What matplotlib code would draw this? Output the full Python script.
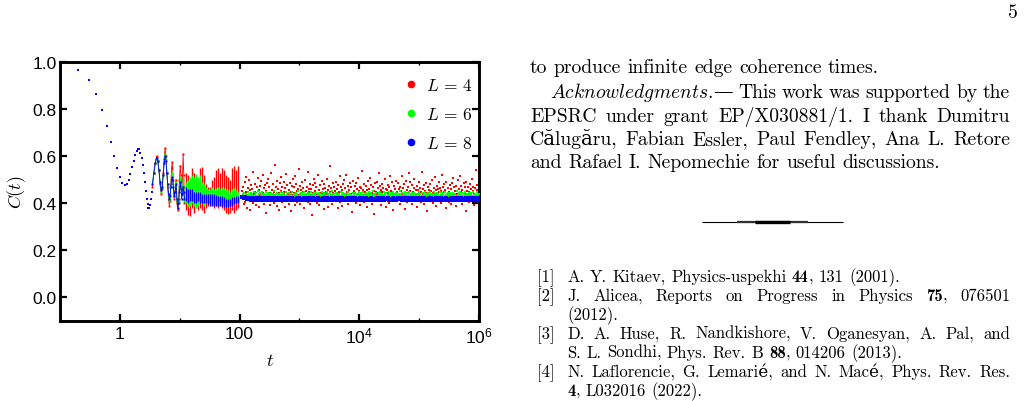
import numpy as np
import matplotlib
matplotlib.use("Agg")
import matplotlib.pyplot as plt
from matplotlib.lines import Line2D
from matplotlib.ticker import FixedLocator, NullFormatter

W, H = 1028, 402

# ---------------- data ----------------
series_labels = [r"$L\,=\,4$", r"$L\,=\,6$", r"$L\,=\,8$"]
series_colors = ["#ff0000", "#00ff00", "#0000ff"]

# early times: all system sizes coincide
t_early = [0.2, 0.3, 0.4, 0.5, 0.6, 0.7, 0.8, 0.9, 1.0, 1.1, 1.2, 1.3, 1.4, 1.5,
           1.6, 1.7, 1.8, 1.9, 2.0, 2.1, 2.2, 2.3, 2.4, 2.5, 2.6, 2.7, 2.8, 2.9,
           3.0, 3.1, 3.2, 3.3, 3.4]
c_early = [0.966, 0.922, 0.865, 0.798, 0.728, 0.659, 0.600, 0.548, 0.510, 0.487,
           0.479, 0.483, 0.500, 0.523, 0.553, 0.581, 0.604, 0.624, 0.631, 0.630,
           0.615, 0.594, 0.564, 0.527, 0.490, 0.454, 0.419, 0.396, 0.379, 0.380,
           0.394, 0.417, 0.449]

# oscillating stretch where the sizes start to separate
t_osc = [3.5, 3.7, 3.9, 4.1, 4.3, 4.5, 4.7, 4.9, 5.1, 5.3, 5.5, 5.7, 5.9, 6.1, 6.3, 6.5,
         6.7, 6.9, 7.1, 7.3, 7.5, 7.8, 8.1, 8.4, 8.7, 9.0, 9.3, 9.6, 9.9, 10.2, 10.5,
         10.8, 11.1, 11.4, 11.7, 12.0]
red_osc = [0.47, 0.53, 0.57, 0.60, 0.58, 0.54, 0.48, 0.44, 0.46, 0.53, 0.59, 0.635, 0.60,
           0.53, 0.47, 0.42, 0.39, 0.41, 0.48, 0.55, 0.575, 0.50, 0.42, 0.45, 0.50, 0.40,
           0.37, 0.42, 0.50, 0.56, 0.52, 0.44, 0.50, 0.61, 0.52, 0.40]
green_osc = [0.48, 0.53, 0.57, 0.59, 0.58, 0.54, 0.49, 0.45, 0.47, 0.52, 0.58, 0.61, 0.59,
             0.53, 0.48, 0.43, 0.41, 0.42, 0.47, 0.52, 0.53, 0.48, 0.43, 0.45, 0.49, 0.41,
             0.38, 0.41, 0.47, 0.51, 0.48, 0.42, 0.46, 0.50, 0.47, 0.41]
blue_osc = [0.48, 0.53, 0.57, 0.594, 0.58, 0.54, 0.49, 0.455, 0.47, 0.52, 0.57, 0.60, 0.58,
            0.53, 0.48, 0.44, 0.42, 0.43, 0.47, 0.50, 0.51, 0.47, 0.43, 0.45, 0.48, 0.42,
            0.38, 0.40, 0.45, 0.49, 0.46, 0.42, 0.44, 0.47, 0.45, 0.42]

# intermediate times (dense sampling): spread (low/high) of points in each time bin
mid_t_range = (12.7, 94.4)
red_mid_lo = [.37, .35, .345, .38, .36, .38, .37, .38, .37, .36, .38, .39, .39, .40,
              .38, .39, .38, .39, .38, .37, .36, .355, .36, .37, .36, .37, .38]
red_mid_hi = [.53, .52, .50, .55, .53, .51, .50, .55, .555, .52, .48, .47, .47, .50,
              .51, .54, .55, .53, .55, .54, .52, .51, .50, .55, .56, .54, .56]
green_mid_lo = [.40, .39, .39, .40, .39, .38, .39, .40, .40, .39, .40, .40, .40, .40,
                .40, .40, .40, .40, .405, .40, .40, .40, .40, .40, .40, .405, .405]
green_mid_hi = [.49, .50, .51, .52, .51, .525, .51, .52, .49, .48, .47, .46, .46, .47,
                .46, .465, .47, .46, .47, .465, .46, .455, .45, .46, .465, .455, .45]
blue_mid_lo = [.41, .40, .41, .41, .40, .40, .41, .40, .40, .40, .40, .395, .39, .39,
               .39, .39, .39, .39, .39, .385, .385, .385, .39, .39, .395, .40, .40]
blue_mid_hi = [.47, .46, .46, .46, .45, .45, .45, .45, .44, .44, .44, .44, .44, .44,
               .44, .435, .43, .43, .43, .425, .42, .42, .42, .425, .425, .43, .43]

# late times (sparse sampling), values in units of 1e-3
late_t_range = (110, 1.0e6)
red_late_milli = [
    452, 418, 471, 396, 433, 489, 405, 447, 512, 428, 381, 463, 437, 499, 414, 456, 372, 441, 478, 425,
    461, 403, 534, 439, 417, 482, 446, 391, 468, 429, 507, 413, 455, 386, 474, 437, 421, 495, 448, 408,
    442, 519, 397, 463, 431, 476, 359, 452, 488, 419, 436, 501, 426, 467, 394, 445, 528, 411, 457, 434,
    482, 401, 449, 562, 423, 470, 438, 389, 496, 416, 459, 443, 373, 485, 428, 511, 452, 406, 467, 436,
    419, 491, 447, 384, 463, 432, 524, 409, 476, 441, 398, 457, 487, 424, 450, 367, 472, 435, 505, 415,
    443, 468, 392, 516, 429, 481, 453, 404, 462, 437, 545, 420, 474, 399, 458, 431, 489, 412, 466, 446,
    381, 497, 426, 454, 418, 471, 439, 532, 407, 462, 448, 395, 483, 421, 459, 436, 349, 477, 444, 503,
    414, 452, 488, 427, 469, 403, 441, 518, 433, 457, 392, 476, 445, 421, 494, 410, 461, 438, 375, 482,
    429, 466, 447, 413, 501, 439, 458, 386, 473, 425, 450, 557, 418, 464, 437, 396, 487, 443, 422, 470,
    453, 409, 492, 435, 461, 378, 477, 428, 446, 514, 404, 468, 432, 455, 389, 481, 440, 426, 499, 417,
    463, 436, 521, 411, 448, 475, 397, 457, 430, 486, 415, 469, 441, 363, 493, 424, 452, 408, 472, 445,
    402, 484, 438, 459, 427, 507, 416, 451, 471, 392, 443, 465, 431, 538, 419, 456, 482, 405, 447, 428,
    474, 433, 455, 383, 496, 422, 461, 440, 509, 412, 478, 444, 399, 467, 435, 453, 356, 488, 426, 450,
    437, 491, 418, 463, 445, 528, 408, 472, 431, 457, 394, 483, 449, 423, 466, 411, 502, 440, 459, 385,
    458, 426, 479, 443, 401, 467, 434, 515, 420, 452, 489, 413, 446, 372, 475, 437, 461, 429, 495, 416,
    447, 413, 486, 432, 459, 398, 471, 425, 452, 517, 409, 464, 438, 481, 419, 446, 377, 493, 431, 458,
    404, 469, 442, 527, 416, 454, 489, 427, 437, 395, 476, 449, 412, 463, 501, 434, 421, 458, 384, 472,
    439, 457, 418, 492, 429, 466, 405, 448, 533, 423, 460, 441, 397, 478, 414, 452, 487, 430, 445, 369,
    471, 426, 458, 409, 483, 437, 451, 419, 498, 444, 402, 466, 431, 512, 420, 455, 390, 474, 436, 461,
    417, 489, 446, 428, 465, 401, 453, 521, 433, 469, 412, 447, 480, 424, 458, 379, 492, 439, 415, 463,
    450, 407, 477, 435, 459, 396, 486, 422, 444, 508, 416, 468, 431, 453, 388, 475, 441, 427, 497, 413,
    462, 438, 515, 410, 449, 473, 399, 456, 432, 484, 418, 467, 443, 366, 491, 425, 451, 411, 470, 446,
    404, 482, 437, 460, 428, 504, 415, 452, 469, 393, 441, 464, 430, 541, 420, 455, 478, 407, 448, 429]
green_late_milli = [
    431, 424, 438, 427, 445, 419, 433, 428, 441, 422, 436, 430, 447, 425, 434, 420, 439, 429, 443, 426,
    435, 421, 440, 432, 426, 449, 418, 437, 429, 444, 423, 433, 427, 452, 430, 424, 438, 420, 442, 431,
    428, 436, 422, 446, 433, 425, 440, 419, 434, 429, 448, 424, 437, 431, 421, 443, 427, 435, 423, 439,
    432, 426, 444, 420, 436, 430, 441, 423, 451, 428, 434, 425, 438, 419, 445, 431, 427, 440, 422, 433,
    437, 424, 429, 447, 421, 435, 431, 442, 426, 438, 420, 433, 428, 450, 425, 436, 430, 423, 443, 432,
    427, 441, 434, 422, 438, 429, 446, 424, 432, 420, 440, 435, 426, 444, 430, 423, 437, 428, 454, 431,
    425, 439, 433, 421, 445, 430, 427, 442, 436, 424, 431, 448, 419, 434, 428, 440, 426, 437, 422, 443,
    434, 429, 441, 425, 436, 422, 447, 432, 427, 439, 430, 424, 444, 420, 435, 428, 442, 431, 426, 438,
    430, 445, 423, 437, 428, 441, 426, 433, 449, 421, 436, 431, 443, 427, 424, 439, 432, 420, 446, 429,
    436, 425, 440, 431, 422, 444, 429, 435, 426, 452, 433, 428, 438, 423, 441, 430, 427, 445, 421, 434,
    428, 442, 430, 437, 424, 439, 433, 426, 447, 431, 422, 436, 429, 443, 425, 440, 432, 419, 438, 427,
    441, 426, 434, 423, 446, 430, 437, 428, 440, 421, 435, 432, 425, 444, 429, 438, 424, 433, 442, 430,
    433, 427, 441, 424, 438, 430, 446, 422, 435, 429, 443, 425, 437, 431, 449, 420, 434, 428, 440, 423,
    436, 426, 444, 432, 421, 439, 430, 447, 424, 435, 428, 442, 419, 437, 431, 451, 426, 433, 440, 422,
    429, 438, 424, 445, 431, 427, 436, 420, 442, 434, 425, 448, 430, 437, 423, 441, 428, 435, 446, 421,
    434, 429, 439, 426, 444, 432, 422, 437, 428, 450, 425, 436, 431, 443, 420, 438, 427, 433, 447, 424,
    440, 430, 423, 435, 428, 445, 421, 437, 432, 426, 441, 429, 453, 424, 434, 438, 422, 443, 430, 427,
    425, 439, 434, 428, 446, 420, 436, 431, 442, 427, 433, 448, 423, 437, 429, 440, 426, 435, 444, 421,
    437, 424, 431, 445, 427, 438, 422, 434, 429, 441, 436, 425, 449, 432, 426, 439, 430, 423, 443, 428,
    429, 442, 426, 436, 421, 447, 433, 428, 440, 424, 435, 431, 444, 422, 438, 427, 450, 430, 434, 425,
    441, 428, 437, 423, 433, 446, 426, 439, 430, 421, 444, 435, 427, 438, 432, 424, 448, 429, 436, 422,
    426, 434, 443, 429, 438, 425, 431, 447, 422, 436, 430, 441, 427, 433, 445, 420, 437, 428, 442, 431,
    435, 422, 440, 431, 427, 444, 429, 436, 424, 439, 433, 426, 451, 430, 437, 421, 442, 428, 434, 446,
    423, 437, 430, 425, 443, 432, 428, 439, 421, 435, 447, 427, 431, 440, 426, 436, 429, 444, 424, 433,
    438, 427, 434, 442, 425, 431, 446, 429, 437, 423, 440, 428, 435, 431, 449, 424, 433, 439, 426, 441]
blue_late_milli = [
    426, 428, 427, 424, 425, 422, 421, 420, 419, 419, 422, 417, 418, 415, 421, 419, 416, 420, 418, 424,
    417, 420, 415, 419, 418, 422, 416, 419, 413, 420, 418, 417, 421, 415, 419, 418, 423, 416, 420, 417,
    419, 415, 421, 418, 416, 420, 417, 422, 418, 414, 419, 421, 416, 418, 420, 415, 419, 417, 422, 418,
    416, 420, 418, 423, 415, 419, 417, 420, 418, 416, 421, 414, 419, 418, 420, 417, 422, 416, 419, 418,
    420, 417, 415, 419, 421, 418, 416, 422, 417, 419, 414, 420, 418, 416, 421, 419, 417, 423, 415, 418,
    418, 421, 416, 419, 417, 420, 415, 418, 422, 416, 419, 418, 420, 414, 417, 421, 419, 416, 418, 420,
    417, 419, 422, 416, 418, 420, 415, 419, 417, 421, 418, 416, 420, 413, 419, 418, 422, 417, 416, 420,
    419, 416, 418, 421, 417, 415, 420, 418, 423, 416, 419, 417, 421, 418, 415, 420, 417, 419, 416, 422,
    418, 420, 416, 419, 415, 421, 418, 417, 420, 414, 419, 422, 416, 418, 420, 417, 419, 415, 421, 418,
    416, 419, 421, 417, 420, 418, 415, 419, 422, 416, 418, 420, 417, 414, 419, 421, 418, 416, 420, 417,
    420, 418, 415, 419, 417, 422, 416, 418, 420, 419, 415, 421, 417, 418, 423, 416, 419, 417, 420, 418,
    417, 421, 419, 416, 418, 420, 414, 419, 417, 421, 418, 416, 420, 418, 415, 419, 422, 417, 418, 419,
    418, 421, 416, 419, 415, 420, 417, 422, 418, 414, 419, 421, 416, 418, 420, 415, 419, 417, 422, 418,
    416, 420, 418, 423, 415, 419, 417, 420, 418, 416, 421, 414, 419, 418, 420, 417, 422, 416, 419, 418,
    420, 417, 415, 419, 421, 418, 416, 422, 417, 419, 414, 420, 418, 416, 421, 419, 417, 423, 415, 418,
    417, 419, 422, 416, 418, 420, 415, 419, 417, 421, 418, 416, 420, 413, 419, 418, 422, 417, 416, 420,
    419, 416, 418, 421, 417, 415, 420, 418, 423, 416, 419, 417, 421, 418, 415, 420, 417, 419, 416, 422,
    418, 420, 416, 419, 415, 421, 418, 417, 420, 414, 419, 422, 416, 418, 420, 417, 419, 415, 421, 418]

x_ticks = [1, 100, 1e4, 1e6]
x_ticklabels = ["1", "100", r"$\mathregular{10^4}$", r"$\mathregular{10^6}$"]
x_minor = [10, 1e3, 1e5]
y_ticks = [0.0, 0.2, 0.4, 0.6, 0.8, 1.0]
y_ticklabels = ["0.0", "0.2", "0.4", "0.6", "0.8", "1.0"]

# ---------------- figure ----------------
plt.rcParams["mathtext.fontset"] = "cm"
plt.rcParams["font.family"] = ["Liberation Sans", "DejaVu Sans"]

fig = plt.figure(figsize=(W / 100, H / 100), dpi=100)
ax_l, ax_r, ax_t, ax_b = 60, 479, 63, 322
ax = fig.add_axes([ax_l / W, 1 - ax_b / H, (ax_r - ax_l) / W, (ax_b - ax_t) / H])
ax.set_xscale("log")

osc = [red_osc, green_osc, blue_osc]
mid_lo = [red_mid_lo, green_mid_lo, blue_mid_lo]
mid_hi = [red_mid_hi, green_mid_hi, blue_mid_hi]
late = [red_late_milli, green_late_milli, blue_late_milli]
late_ms = [1.5, 2.0, 2.6]

for i, col in enumerate(series_colors):
    z = 2 + i
    ax.plot(t_early, c_early, ls="none", marker="s", ms=1.5, mew=0, color=col, zorder=z)
    ax.plot(t_osc, osc[i], ls="-", lw=0.6, marker="s", ms=1.4, mew=0, color=col, zorder=z)
    tm = np.geomspace(mid_t_range[0], mid_t_range[1], len(mid_lo[i]))
    ax.vlines(tm, mid_lo[i], mid_hi[i], colors=col, lw=1.0, zorder=z)
    vals = np.array(late[i]) / 1000.0
    tl = np.geomspace(late_t_range[0], late_t_range[1], len(vals))
    ax.plot(tl, vals, ls="none", marker="s", ms=late_ms[i], mew=0, color=col, zorder=z)

ax.set_xlim(0.1, 1e6)
ax.set_ylim(-0.1, 1.0)
ax.xaxis.set_major_locator(FixedLocator(x_ticks))
ax.set_xticklabels(x_ticklabels)
ax.xaxis.set_minor_locator(FixedLocator(x_minor))
ax.xaxis.set_minor_formatter(NullFormatter())
ax.set_yticks(y_ticks)
ax.set_yticklabels(y_ticklabels)
ax.tick_params(which="major", direction="in", length=5, width=1.6, top=True, right=True,
               labelsize=12.5, colors="black")
ax.tick_params(axis="x", which="major", pad=3.5)
ax.tick_params(axis="y", which="major", pad=2.5)
ax.tick_params(which="minor", direction="in", length=2.5, width=1.0, top=True, right=True)
for s in ax.spines.values():
    s.set_linewidth(2.1)
    s.set_color("black")

ax.set_xlabel(r"$t$", fontsize=13)
ax.xaxis.set_label_coords(0.5, -(353 - ax_b) / (ax_b - ax_t))
ax.set_ylabel(r"$C(t)$", fontsize=13)
ax.yaxis.set_label_coords(-(ax_l - 28) / (ax_r - ax_l), 0.5)

handles = [Line2D([], [], ls="none", marker="o", ms=5.5, mew=0, color=c) for c in series_colors]
ax.legend(handles, series_labels, loc="upper right", bbox_to_anchor=(1.0 + 8 / 419, 1.0),
          frameon=False, fontsize=12.5, handlelength=0.5, handletextpad=0.6, labelspacing=0.75,
          borderaxespad=0.65, borderpad=0.2)

# ---------------- page text (right column) ----------------
renderer = fig.canvas.get_renderer()


def seg_width(s, prop):
    t = fig.text(0, 0, s, **prop)
    w = t.get_window_extent(renderer).width
    t.remove()
    return w


def props(kind, fs):
    fam = {"rm": ["cmr10", "DejaVu Serif"], "bf": ["cmb10", "DejaVu Serif"]}[kind]
    return dict(family=fam, fontsize=fs, color="black")


def draw_line(x0, yb, words, fs, x1=None):
    """words: list of tokens; token = list of (text, kind) drawn contiguously."""
    widths = []
    for tok in words:
        widths.append(sum(seg_width(s, props(k, fs)) for s, k in tok))
    if x1 is not None and len(words) > 1:
        gap = (x1 - x0 - sum(widths)) / (len(words) - 1)
    else:
        gap = seg_width("x x", props("rm", fs)) - seg_width("xx", props("rm", fs))
    x = x0
    for tok, wtok in zip(words, widths):
        xs = x
        for s, k in tok:
            fig.text(xs / W, 1 - yb / H, s, ha="left", va="baseline", **props(k, fs))
            xs += seg_width(s, props(k, fs))
        x += wtok + gap


def simple(text):
    return [[(w, "rm")] for w in text.split()]


# font sizes fitted to measured line widths
w10 = seg_width("to produce infinite edge coherence times.", props("rm", 10))
fs_main = 10 * 350 / w10
w10r = seg_width("A. Y. Kitaev, Physics-uspekhi 44, 131 (2001).", props("rm", 10))
fs_ref = 10 * 335 / w10r

XL, XR = 530, 1010
draw_line(XL, 73, simple("to produce infinite edge coherence times."), fs_main)
ack = [[(r"$\mathit{Acknowledgments.}$", "rm"), ("\u2014", "rm")]] + simple(
    "This work was supported by the")
draw_line(550, 98, ack, fs_main, x1=XR)
draw_line(XL, 122, simple("EPSRC under grant EP/X030881/1.  I thank Dumitru"), fs_main, x1=XR)
draw_line(XL, 145, simple("C\u0103lug\u0103ru, Fabian Essler, Paul Fendley, Ana L. Retore"), fs_main, x1=XR)
draw_line(XL, 168, simple("and Rafael I. Nepomechie for useful discussions."), fs_main)

fig.text(1013 / W, 1 - 18 / H, "5", ha="center", va="baseline", **props("rm", fs_main))

# separator rule
for xa, xb, lw, c in [(702, 843, 0.8, "black"), (737, 808, 1.6, "#333333"), (755, 790, 2.4, "black")]:
    fig.add_artist(Line2D([xa / W, xb / W], [1 - 223 / H, 1 - 223 / H], lw=lw, color=c,
                          solid_capstyle="butt"))

RL, RX = 537, 567
refs = [
    (282, "[1]", [[("A.", "rm")], [("Y.", "rm")], [("Kitaev,", "rm")], [("Physics-uspekhi", "rm")],
                  [("44", "bf"), (",", "rm")], [("131", "rm")], [("(2001).", "rm")]], False),
    (301, "[2]", simple("J. Alicea, Reports on Progress in Physics")
     + [[("75", "bf"), (",", "rm")], [("076501", "rm")]], True),
    (320, None, simple("(2012)."), False),
    (339, "[3]", simple("D. A. Huse, R. Nandkishore, V. Oganesyan, A. Pal, and"), True),
    (358, None, simple("S. L. Sondhi, Phys. Rev. B") + [[("88", "bf"), (",", "rm")]]
     + simple("014206 (2013)."), False),
    (377, "[4]", simple("N. Laflorencie, G. Lemari\u00e9, and N. Mac\u00e9, Phys. Rev. Res."), True),
    (396, None, [[("4", "bf"), (",", "rm")]] + simple("L032016 (2022)."), False),
]
for yb, lab, words, just in refs:
    if lab:
        fig.text(RL / W, 1 - yb / H, lab, ha="left", va="baseline", **props("rm", fs_ref))
    draw_line(RX, yb, words, fs_ref, x1=XR if just else None)

fig.savefig("out.png", dpi=100)
